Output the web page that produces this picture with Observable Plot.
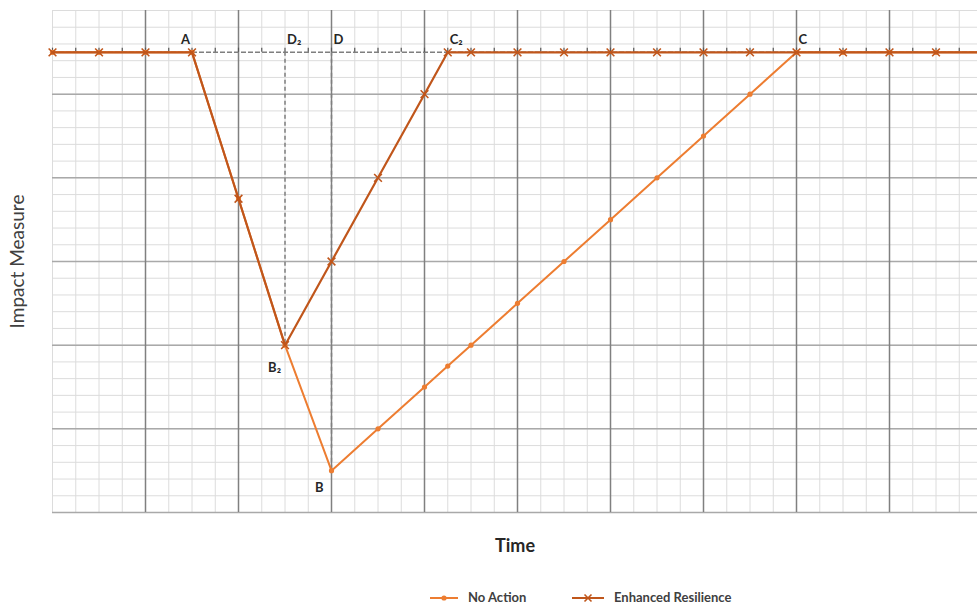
<!DOCTYPE html>
<html><head><meta charset="utf-8">
<script src="https://cdn.jsdelivr.net/npm/d3@7"></script>
<script src="https://cdn.jsdelivr.net/npm/@observablehq/plot@0.6"></script>
<style>
body{margin:0;background:#fff;font-family:Lato,"Open Sans",sans-serif;}
#wrap{position:relative;width:977px;height:606px;overflow:hidden;background:#fff;}
#chart{position:absolute;left:0;top:0;}
#legend{position:absolute;left:0;top:590px;width:977px;height:15px;}
.item{position:absolute;top:0;height:15px;line-height:15px;display:flex;align-items:center;font-weight:700;font-size:13px;color:#404040;white-space:nowrap;}
.item svg{display:block;}
</style></head><body>
<div id="wrap"><div id="chart"></div><div id="legend"></div></div>
<script>
// ---- data ----
const timeNoAction   = [0,1,2,3,4,5,6,7,8,8.5,9,10,11,12,13,14,15,16,17,18,19,20];
const impactNoAction = [110,110,110,110,75,40,10,20,30,35,40,50,60,70,80,90,100,110,110,110,110,110];
const timeEnhanced   = [0,1,2,3,4,5,6,7,8,8.5,9,10,11,12,13,14,15,16,17,18,19,20];
const impactEnhanced = [110,110,110,110,75,40,60,80,100,110,110,110,110,110,110,110,110,110,110,110,110,110];
const pointLabels  = ["A","D₂","D","C₂","C","B₂","B"];
const pointTimes   = [3,5,6,8.5,16,5,6];
const pointImpacts = [110,110,110,110,110,40,10];
const guideTimes   = [5,6];
const guideBottoms = [40,10];
const baselineImpact = 110;
const seriesNames = ["No Action","Enhanced Resilience"];
const xTitle = "Time";
const yTitle = "Impact Measure";

const colNA = "#ED7D31", colER = "#C0561B";

const noAction = timeNoAction.map((t,i)=>({t, v: impactNoAction[i]}));
const enhanced = timeEnhanced.map((t,i)=>({t, v: impactEnhanced[i]}));
const labels = pointLabels.map((l,i)=>({l, t: pointTimes[i], v: pointImpacts[i]}));
const guides = guideTimes.map((t,i)=>({t, b: guideBottoms[i]}));

const minorX = d3.range(0, 20.01, 0.5);
const majorX = d3.range(2, 19, 2);
const minorY = d3.range(0, 120.01, 4);
const majorY = d3.range(0, 101, 20);
const axisTicks = d3.range(0, 20.01, 0.5);

const above = labels.filter(d => d.v === baselineImpact && d.l !== "A");
const labA = labels.filter(d => d.l === "A");
const labB2 = labels.filter(d => d.l === "B₂");
const labB = labels.filter(d => d.l === "B");

const chart = Plot.plot({
  width: 977, height: 562,
  marginTop: 10, marginBottom: 50, marginLeft: 52, marginRight: 0,
  style: {fontFamily: "Lato, 'Open Sans', sans-serif", background: "#fff", overflow: "hidden"},
  x: {domain: [0, 20], range: [52, 982], axis: null},
  y: {domain: [0, 120], range: [512, 10], axis: null},
  marks: [
    Plot.ruleX(minorX, {x: d => d, y1: 0, y2: 120, stroke: "#dcdcdc", strokeWidth: 1}),
    Plot.ruleY(minorY, {y: d => d, x1: 0, x2: 20, stroke: "#dcdcdc", strokeWidth: 1}),
    Plot.ruleY(majorY, {y: d => d, x1: 0, x2: 20, stroke: "#a9a9a9", strokeWidth: 1.5}),
    Plot.ruleX(majorX, {x: d => d, y1: 0, y2: 120, stroke: "#808080", strokeWidth: 1.5}),
    Plot.ruleY([baselineImpact], {x1: 0, x2: 20, stroke: "#7f7f7f", strokeWidth: 1.5, strokeDasharray: "5,2"}),
    Plot.ruleX(axisTicks, {x: d => d, y1: baselineImpact, y2: baselineImpact + 1, stroke: "#595959", strokeWidth: 1.2}),
    Plot.ruleX(guides, {x: "t", y1: baselineImpact, y2: "b", stroke: "#7f7f7f", strokeWidth: 1.5, strokeDasharray: "4,3"}),
    Plot.line(noAction, {x: "t", y: "v", stroke: colNA, strokeWidth: 2}),
    Plot.dot(noAction, {x: "t", y: "v", r: 2.6, fill: colNA, stroke: "none"}),
    Plot.line(enhanced, {x: "t", y: "v", stroke: colER, strokeWidth: 2.2}),
    Plot.dot(enhanced, {x: "t", y: "v", symbol: "times", r: 3.6, stroke: colER, strokeWidth: 1.6}),
    Plot.text(labA, {x: "t", y: "v", text: "l", textAnchor: "end", dx: -2, dy: -13, fontSize: 13, fontWeight: 700, fill: "#262626"}),
    Plot.text(above, {x: "t", y: "v", text: "l", textAnchor: "start", dx: 2, dy: -13, fontSize: 13, fontWeight: 700, fill: "#262626"}),
    Plot.text(labB2, {x: "t", y: "v", text: "l", textAnchor: "end", dx: -4, dy: 23, fontSize: 13, fontWeight: 700, fill: "#262626"}),
    Plot.text(labB, {x: "t", y: "v", text: "l", textAnchor: "end", dx: -8, dy: 17, fontSize: 13, fontWeight: 700, fill: "#262626"}),
    Plot.text([xTitle], {frameAnchor: "bottom", lineAnchor: "middle", textAnchor: "middle", dy: 34, fontSize: 18, fontWeight: 700, fill: "#262626"}),
    Plot.text([yTitle], {frameAnchor: "left", textAnchor: "middle", lineAnchor: "middle", dx: -35, rotate: -90, fontSize: 19, fill: "#404040"})
  ]
});
document.getElementById("chart").appendChild(chart);

// legend
const legend = document.getElementById("legend");
function item(left, sampleW, name, color, marker) {
  const div = document.createElement("div");
  div.className = "item";
  div.style.left = left + "px";
  const ns = "http://www.w3.org/2000/svg";
  const s = document.createElementNS(ns, "svg");
  s.setAttribute("width", sampleW); s.setAttribute("height", 12);
  s.style.marginRight = "10px";
  const ln = document.createElementNS(ns, "line");
  ln.setAttribute("x1", 0); ln.setAttribute("x2", sampleW); ln.setAttribute("y1", 6); ln.setAttribute("y2", 6);
  ln.setAttribute("stroke", color); ln.setAttribute("stroke-width", 2);
  s.appendChild(ln);
  const c = sampleW / 2;
  if (marker === "dot") {
    const m = document.createElementNS(ns, "circle");
    m.setAttribute("cx", c); m.setAttribute("cy", 6); m.setAttribute("r", 2.6); m.setAttribute("fill", color);
    s.appendChild(m);
  } else {
    const m = document.createElementNS(ns, "path");
    m.setAttribute("d", `M${c-3.5},2.5L${c+3.5},9.5M${c-3.5},9.5L${c+3.5},2.5`);
    m.setAttribute("stroke", color); m.setAttribute("stroke-width", 1.6);
    s.appendChild(m);
  }
  div.appendChild(s);
  const sp = document.createElement("span");
  sp.textContent = name;
  div.appendChild(sp);
  legend.appendChild(div);
}
item(430, 28, seriesNames[0], colNA, "dot");
item(572, 32, seriesNames[1], colER, "x");
</script>
</body></html>
